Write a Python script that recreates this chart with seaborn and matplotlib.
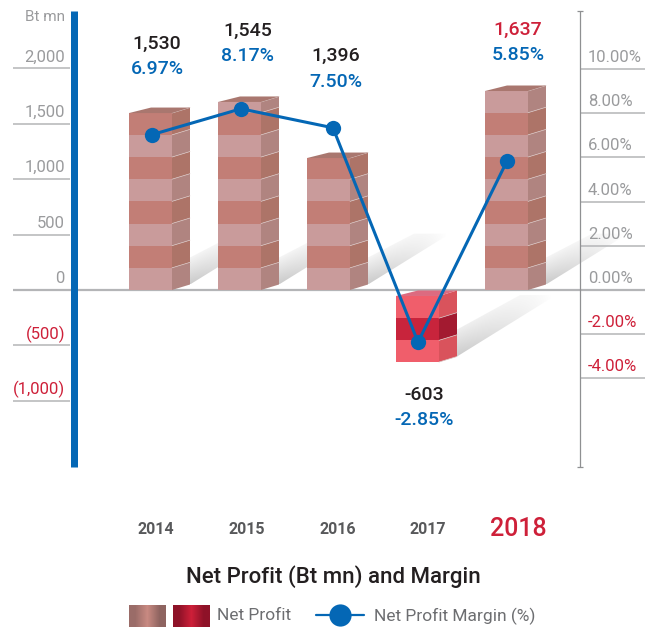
import numpy as np
import pandas as pd
import matplotlib.pyplot as plt
import seaborn as sns
from matplotlib.patches import Polygon

years = ['2014', '2015', '2016', '2017', '2018']
# drawn bar extents (the drawn height differs from the printed label)
bar_start = [0, 0, 0, -54, 0]
bar_end = [1597, 1697, 1191, -650, 1796]
band_size = 200
margin_x = [0.017, 0.017, 0.05, 0.006, 0.006]
margin_pos = [7.03, 8.2, 7.34, -2.36, 5.84]

profit_labels = ['1,530', '1,545', '1,396', '-603', '1,637']
margin_labels = ['6.97%', '8.17%', '7.50%', '-2.85%', '5.85%']

left_ticks = [2000, 1500, 1000, 500, 0, -500, -1000]
left_labels = ['2,000', '1,500', '1,000', '500', '0', '(500)', '(1,000)']
right_ticks = [10, 8, 6, 4, 2, 0, -2, -4]
right_labels = ['10.00%', '8.00%', '6.00%', '4.00%', '2.00%', '0.00%', '-2.00%', '-4.00%']

W, H = 653, 629
ZERO_PX = 290
PX_PER_BT = 0.1108
PX_PER_PCT = 22.1
FIRST_PX = 150.5
STEP_PX = 89

BLUE = '#0467B5'
GREY = '#9A9B9D'
TICK = '#B4B5B7'
RED = '#CE2039'
FONT = 'Roboto'

tones = {
    'normal': {'front': ['#C99B9B', '#C27E76'], 'side': ['#B08480', '#AD7468'], 'top': '#A9776F'},
    'loss': {'front': ['#F05E6B', '#C8243C'], 'side': ['#D9535C', '#A31A30'], 'top': '#DC6B80'},
}


def xd(px):
    return (px - FIRST_PX) / STEP_PX


def yd(py):
    return (ZERO_PX - py) / PX_PER_BT


def put(x, y, s, **kw):
    kw.setdefault('family', FONT)
    kw.setdefault('ha', 'center')
    kw.setdefault('va', 'center')
    fig.text(x / W, 1 - y / H, s, **kw)


sns.set_style('white')
plt.rcParams['font.family'] = FONT

fig = plt.figure(figsize=(W / 100, H / 100), dpi=100)
ax = fig.add_axes([0, 0, 1, 1])
ax.patch.set_visible(False)

half = 43 / STEP_PX / 2
dx_r = 18 / STEP_PX
dx_l = 22 / STEP_PX
dy = 5.5 / PX_PER_BT

# stacked bands of each bar
for i, year in enumerate(years):
    tone = tones['loss' if bar_end[i] < 0 else 'normal']
    sign = 1 if bar_end[i] > bar_start[i] else -1
    edges = list(np.arange(bar_start[i], bar_end[i], sign * band_size)) + [bar_end[i]]
    if abs(edges[-1] - edges[-2]) < 10:
        edges.pop(-2)
    for k in range(len(edges) - 1):
        sns.barplot(x=[year], y=[edges[k + 1] - edges[k]], order=years, bottom=edges[k],
                    color=tone['front'][k % 2], saturation=1, width=43 / STEP_PX,
                    linewidth=0, errorbar=None, ax=ax, zorder=4)
        r = i + half
        ax.add_patch(Polygon([(r, edges[k]), (r + dx_r, edges[k] + dy),
                              (r + dx_r, edges[k + 1] + dy), (r, edges[k + 1])],
                             facecolor=tone['side'][k % 2], edgecolor='none', zorder=4))
        # thin light seam on the side between bands
        ax.plot([r, r + dx_r], [edges[k + 1], edges[k + 1] + dy], color='#D8C4C2', lw=0.5, zorder=4.1)
    top = max(bar_start[i], bar_end[i])
    ax.add_patch(Polygon([(i - half, top), (i - half + dx_l, top + dy),
                          (i + half + dx_r, top + dy), (i + half, top)],
                         facecolor=tone['top'], edgecolor='none', zorder=4.2))

ax.set_xlim(xd(0), xd(W))
ax.set_ylim(yd(H), yd(0))

# cast shadows behind the bars, fading away from the bar and towards the upper edge
grad_y, grad_x = np.mgrid[0:1:80j, 0:1:120j]
shade = np.zeros((80, 120, 4))
shade[..., :3] = 0.76
across = np.clip((grad_y - grad_x) / 0.55, 0, 1)
shade[..., 3] = (1 - 0.85 * across) * np.clip(1 - grad_x * 1.05, 0, 1) * 0.85
for i, year in enumerate(years):
    low = min(bar_start[i], bar_end[i])
    x0 = i + half + dx_r
    y0 = low + dy
    reach = 100 if bar_end[i] < 0 else 82
    pts = [(x0, y0), (x0 + reach / STEP_PX, y0 + reach * 0.62 / PX_PER_BT),
           (x0 + (reach - 36) / STEP_PX, y0 + (reach * 0.62) / PX_PER_BT), (x0, y0 + 27 / PX_PER_BT)]
    im = ax.imshow(shade, extent=(x0, pts[1][0], y0, pts[1][1]), origin='lower',
                   aspect='auto', zorder=1, interpolation='bilinear')
    clip = Polygon(pts, transform=ax.transData, facecolor='none', edgecolor='none')
    ax.add_patch(clip)
    im.set_clip_path(clip)

ax.set_xlim(xd(0), xd(W))
ax.set_ylim(yd(H), yd(0))

# axes furniture
ax.hlines(left_ticks, xd(13), xd(70), color=TICK, lw=1.1, zorder=2)
ax.hlines(0, xd(13), xd(645), color=TICK, lw=1.6, zorder=2)
ax.vlines(xd(73.5), yd(467), yd(11), color=BLUE, lw=5.04, zorder=3)
ax.vlines(xd(580), yd(467), yd(11), color='#8F9092', lw=0.9, zorder=3)
ax.hlines([yd(11), yd(467)], xd(577), xd(583), color='#8F9092', lw=0.9, zorder=3)
ax.hlines([yd(ZERO_PX - t * PX_PER_PCT) for t in right_ticks], xd(580), xd(645),
          color=TICK, lw=1.1, zorder=2)
ax.axis('off')

# margin line on its own percent scale
ax2 = ax.twinx()
ax2.set_zorder(ax.get_zorder() + 1)
ax2.patch.set_visible(False)
sns.lineplot(x=[i + d for i, d in enumerate(margin_x)], y=margin_pos, color=BLUE, linewidth=2.2,
             marker='o', markersize=11, markeredgewidth=0, errorbar=None, ax=ax2)
ax2.set_ylim((ZERO_PX - H) / PX_PER_PCT, ZERO_PX / PX_PER_PCT)
ax2.set_xlim(xd(0), xd(W))
ax2.axis('off')

# text
put(65, 17, 'Bt mn', ha='right', color=GREY, fontsize=11)
for t, lab in zip(left_ticks, left_labels):
    y = ZERO_PX - t * PX_PER_BT - 11.5
    put(65, y, lab, ha='right', color=RED if t < 0 else GREY, fontsize=12)
for t, lab in zip(right_ticks, right_labels):
    y = ZERO_PX - t * PX_PER_PCT - 11.5
    put(588, y, lab, ha='left', color=RED if t < 0 else GREY, fontsize=12)

label_x = [157, 248, 336, 424, 518]
profit_y = [44, 31, 56, 395, 30]
margin_y = [69, 56, 82, 420, 55]
for i in range(len(years)):
    put(label_x[i], profit_y[i], profit_labels[i], color=RED if i == 4 else '#231F20',
        fontsize=14, fontweight='medium')
    put(label_x[i], margin_y[i], margin_labels[i], color=BLUE, fontsize=14, fontweight='medium')

year_x = [156, 247, 338, 428, 518]
for i, year in enumerate(years):
    if i == 4:
        put(year_x[i], 529, year, color=RED, fontsize=18, fontweight='medium')
    else:
        put(year_x[i], 530, year, color='#58595B', fontsize=11.5, fontweight='bold')

put(333, 577, 'Net Profit (Bt mn) and Margin', color='#231F20', fontsize=16, fontweight='medium')

# legend
def swatch(x0, x1, stops, cols):
    g = np.array(stops)[None, :]
    ax.imshow(g, extent=(xd(x0), xd(x1), yd(627), yd(605)), aspect='auto', zorder=5,
              cmap=sns.blend_palette(cols, as_cmap=True), interpolation='bilinear', vmin=0, vmax=1)


swatch(129, 166, [0, 0.5, 1], ['#9A6C68', '#C98A82', '#8E6460'])
swatch(173, 210, [0, 0.5, 1], ['#8E1228', '#CE2039', '#8E1228'])
ax.set_xlim(xd(0), xd(W))
ax.set_ylim(yd(H), yd(0))
ax.axis('off')
ax2.plot([xd(316), xd(364)], [(ZERO_PX - 615) / PX_PER_PCT] * 2, color=BLUE, lw=1.6)
ax2.plot([xd(340)], [(ZERO_PX - 615) / PX_PER_PCT], 'o', color=BLUE, ms=16, mew=0)
ax2.set_xlim(xd(0), xd(W))
ax2.set_ylim((ZERO_PX - H) / PX_PER_PCT, ZERO_PX / PX_PER_PCT)
put(217, 616, 'Net Profit', ha='left', color='#6D6E71', fontsize=12.5)
put(374, 616, 'Net Profit Margin (%)', ha='left', color='#6D6E71', fontsize=12.5)

fig.savefig('out.png', dpi=100)
